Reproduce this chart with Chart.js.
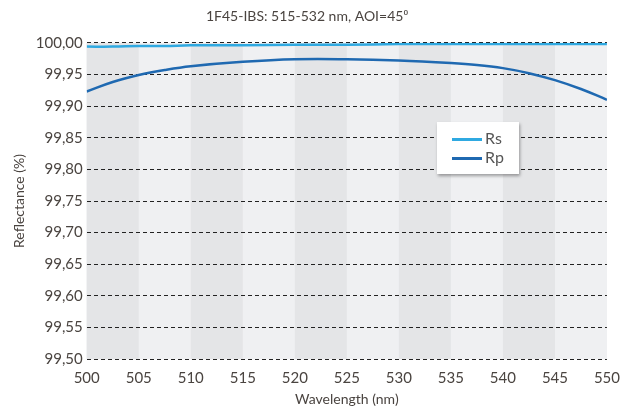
<!DOCTYPE html>
<html>
<head>
<meta charset="utf-8">
<script src="https://cdn.jsdelivr.net/npm/chart.js@4.4.1/dist/chart.umd.min.js"></script>
<style>
  html, body { margin: 0; padding: 0; background: #fff; }
  #wrap { position: relative; width: 622px; height: 417px; }
  #legend {
    position: absolute; left: 437px; top: 122px; width: 82px; height: 52px;
    background: #fff; box-shadow: 1px 2px 3px rgba(0,0,0,0.35);
    font-family: Lato, sans-serif; font-size: 16px; color: #555;
    box-sizing: border-box; padding: 6px 0 0 15px;
  }
  #legend div { height: 19px; line-height: 19px; white-space: nowrap; }
  #legend span { display: inline-block; width: 30px; height: 3px; vertical-align: middle; margin-right: 3px; }
</style>
</head>
<body>
<div id="wrap">
  <canvas id="chart" width="622" height="417"></canvas>
  <div id="legend"></div>
</div>
<script>
// wavelength samples (nm)
const wavelengths = [500, 502.5, 505, 507.5, 510, 515, 520, 525, 530, 535, 537.5, 540, 542.5, 545, 547.5, 550];
// reflectance values (%)
const rsValues = [99.994, 99.994, 99.995, 99.995, 99.996, 99.996, 99.997, 99.997, 99.998, 99.998, 99.998, 99.998, 99.998, 99.998, 99.998, 99.998];
const rpValues = [99.923, 99.938, 99.949, 99.957, 99.963, 99.970, 99.974, 99.974, 99.972, 99.968, 99.965, 99.960, 99.952, 99.941, 99.927, 99.910];
// shaded bands: start of each darker 5 nm stripe
const darkBands = [500, 510, 520, 530, 540];
const bandWidth = 5;

const fontFamily = 'Lato, "Open Sans", sans-serif';
const textColor = '#4a4440';

// draw the alternating grey stripes behind the plot
const bandPlugin = {
  id: 'bands',
  beforeDraw(chart) {
    const { ctx, chartArea, scales } = chart;
    const x = scales.x;
    ctx.save();
    ctx.fillStyle = '#eff0f2';
    ctx.fillRect(chartArea.left, chartArea.top, chartArea.right - chartArea.left, chartArea.bottom - chartArea.top);
    ctx.fillStyle = '#e4e5e7';
    darkBands.forEach(start => {
      const x0 = x.getPixelForValue(start);
      const x1 = x.getPixelForValue(start + bandWidth);
      ctx.fillRect(x0, chartArea.top, x1 - x0, chartArea.bottom - chartArea.top);
    });
    ctx.restore();
  }
};

const chart = new Chart(document.getElementById('chart'), {
  type: 'line',
  data: {
    datasets: [
      {
        label: 'Rs',
        data: wavelengths.map((w, i) => ({ x: w, y: rsValues[i] })),
        borderColor: '#2fa9e1',
        borderWidth: 2.5,
        pointRadius: 0,
        tension: 0.4
      },
      {
        label: 'Rp',
        data: wavelengths.map((w, i) => ({ x: w, y: rpValues[i] })),
        borderColor: '#1f69b1',
        borderWidth: 2.5,
        pointRadius: 0,
        tension: 0.4
      }
    ]
  },
  options: {
    responsive: false,
    animation: false,
    layout: { padding: { left: 7, right: 15, top: 4, bottom: 5 } },
    plugins: {
      legend: { display: false },
      tooltip: { enabled: false },
      title: {
        display: true,
        text: '1F45-IBS: 515-532 nm, AOI=45\u2070',
        color: textColor,
        font: { family: fontFamily, size: 14, weight: 'normal' },
        padding: { top: 4, bottom: 18 }
      }
    },
    scales: {
      x: {
        type: 'linear',
        min: 500,
        max: 550,
        ticks: {
          stepSize: 5,
          color: textColor,
          font: { family: fontFamily, size: 15 },
          padding: 2
        },
        grid: { display: false },
        border: { display: false },
        title: {
          display: true,
          text: 'Wavelength (nm)',
          color: textColor,
          font: { family: fontFamily, size: 14 },
          padding: { top: 2 }
        }
      },
      y: {
        min: 99.5,
        max: 100,
        ticks: {
          stepSize: 0.05,
          color: textColor,
          font: { family: fontFamily, size: 15 },
          padding: 4,
          callback: v => v.toFixed(2).replace('.', ',')
        },
        grid: {
          color: '#222',
          lineWidth: 1,
          drawTicks: false
        },
        border: { display: false, dash: [4, 3] },
        title: {
          display: true,
          text: 'Reflectance (%)',
          color: textColor,
          font: { family: fontFamily, size: 14 },
          padding: { bottom: 4 }
        }
      }
    }
  },
  plugins: [bandPlugin]
});

// simple legend box placed inside the plot
const legend = document.getElementById('legend');
chart.data.datasets.forEach(ds => {
  const row = document.createElement('div');
  row.innerHTML = '<span style="background:' + ds.borderColor + '"></span>' + ds.label;
  legend.appendChild(row);
});
</script>
</body>
</html>
